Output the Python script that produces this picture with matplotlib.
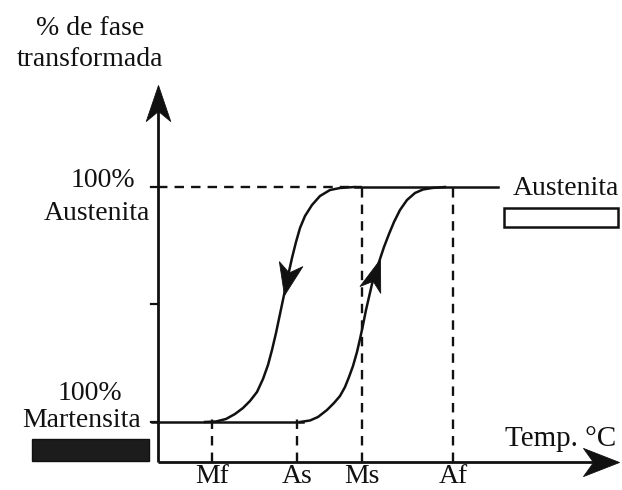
import matplotlib.pyplot as plt
import numpy as np
from matplotlib.markers import MarkerStyle
from matplotlib.patches import Rectangle
from matplotlib.path import Path
from matplotlib.transforms import Affine2D

# transformation temperatures (arbitrary temperature units)
temp_labels = ["Mf", "As", "Ms", "Af"]
temp_values = [10.8, 27.8, 40.8, 59.0]

# phase levels (% transformed)
level_mart = 0
level_aust = 100
level_ticks = [0, 50, 100]

# cooling branch (austenite -> martensite)
cool_T = [39.4, 36.4, 34.4, 32.4, 30.8, 29.4, 28.4, 27.6, 26.8, 26.0,
          25.2, 24.4, 23.6, 22.8, 22.0, 21.0, 19.8, 18.4, 17.0, 15.4,
          13.6, 11.6, 9.4]
cool_f = [100.0, 99.57, 98.72, 96.17, 92.34, 87.66, 82.55, 76.60, 69.79, 62.13,
          54.04, 45.96, 37.87, 30.64, 24.26, 18.30, 12.77, 8.94, 5.96, 3.40,
          1.28, 0.21, 0.0]
cool_arrow = 10

# heating branch (martensite -> austenite)
heat_T = [28.4, 30.4, 32.0, 33.8, 35.2, 36.4, 37.4, 38.2, 39.0, 39.8,
          40.4, 41.0, 41.6, 42.2, 42.8, 43.6, 44.4, 45.2, 46.2, 47.2,
          48.4, 49.8, 51.4, 53.0, 54.8, 57.4]
heat_f = [0.0, 0.64, 2.13, 5.11, 8.09, 11.06, 14.89, 19.15, 23.83, 29.79,
          35.32, 41.28, 47.66, 53.19, 58.72, 64.26, 69.36, 74.47, 80.0, 85.11,
          90.21, 94.47, 97.45, 98.94, 99.57, 100.0]
heat_arrow = 16

T_axis_end = 92.2
f_axis_top = 143.4
f_axis = -17
T_aust_end = 68.0
T_mart_end = 29.0

INK = "#111111"
FONT = ["Liberation Serif", "DejaVu Serif"]
W, H = 622, 490

# notched arrow head, tip at origin, pointing up
HEAD = Path([(0, 0), (-0.34, -1), (0, -0.72), (0.34, -1), (0, 0)],
            [Path.MOVETO, Path.LINETO, Path.LINETO, Path.LINETO, Path.CLOSEPOLY])


def head(ax, x, y, angle, length_px, width_scale=1.0):
    m = MarkerStyle(HEAD, transform=Affine2D().scale(width_scale, 1).rotate_deg(angle))
    ax.plot([x], [y], marker=m, ms=2 * length_px * 72 / 100, color=INK,
            mec=INK, mew=0.6, ls="none", zorder=5)


def curve_angle(ax, xs, ys, i):
    p0 = ax.transData.transform((xs[i - 1], ys[i - 1]))
    p1 = ax.transData.transform((xs[i + 1], ys[i + 1]))
    d = p1 - p0
    return np.degrees(np.arctan2(d[1], d[0])) - 90


def ftext(x, y, s, size=20, **kw):
    fig.text(x / W, 1 - y / H, s, family=FONT, fontsize=size, color=INK, **kw)


fig = plt.figure(figsize=(W / 100, H / 100), dpi=100)
ax = fig.add_axes([0, 0, 1, 1])
ax.set_xlim(-31.6, 92.8)
ax.set_ylim(-28.94, 179.57)
ax.axis("off")

# axes
ax.plot([0, 0], [f_axis, f_axis_top - 6], color=INK, lw=2.0, solid_capstyle="butt")
ax.plot([0, T_axis_end - 4], [f_axis, f_axis], color=INK, lw=2.0, solid_capstyle="butt")
head(ax, 0, f_axis_top, 0, 36, 1.0)
head(ax, T_axis_end, f_axis, -90, 36, 1.15)
for lv in level_ticks:
    ax.plot([-1.4, 0], [lv, lv], color=INK, lw=1.6)

# dashed guides
dash = dict(color=INK, lw=1.7, dashes=(4, 3))
ax.plot([0, temp_values[2]], [level_aust, level_aust], **dash)
for name, T in zip(temp_labels, temp_values):
    top = level_aust if name in ("Ms", "Af") else 4
    ax.plot([T, T], [f_axis, top], **dash)
    ax.text(T, -28.5, name, family=FONT, fontsize=20, color=INK,
            ha="center", va="bottom")

# plateaus
ax.plot([-1.2, T_mart_end], [level_mart, level_mart], color=INK, lw=1.8)
ax.plot([cool_T[0], T_aust_end], [level_aust, level_aust], color=INK, lw=1.8)

# transformation branches
ax.plot(cool_T, cool_f, color=INK, lw=1.8, solid_joinstyle="round")
ax.plot(heat_T, heat_f, color=INK, lw=1.8, solid_joinstyle="round")
head(ax, cool_T[cool_arrow], cool_f[cool_arrow],
     curve_angle(ax, cool_T, cool_f, cool_arrow), 32, 1.1)
head(ax, heat_T[heat_arrow], heat_f[heat_arrow],
     curve_angle(ax, heat_T, heat_f, heat_arrow), 32, 1.0)

# labels
ftext(90, 35, "% de fase", ha="center", va="baseline")
ftext(90, 66, "transformada", ha="center", va="baseline")
ftext(103, 187, "100%", ha="center", va="baseline")
ftext(97, 220, "Austenita", ha="center", va="baseline")
ftext(90, 400, "100%", ha="center", va="baseline")
ftext(82, 427, "Martensita", ha="center", va="baseline")
ftext(513, 195, "Austenita", ha="left", va="baseline")
ftext(505, 446, "Temp. °C", size=21, ha="left", va="baseline")

# phase swatches
fig.add_artist(Rectangle((32 / W, 1 - 461 / H), 117 / W, 22 / H,
                         transform=fig.transFigure, facecolor="#1c1c1c",
                         edgecolor=INK, lw=1))
fig.add_artist(Rectangle((504 / W, 1 - 227 / H), 114 / W, 19 / H,
                         transform=fig.transFigure, facecolor="white",
                         edgecolor=INK, lw=1.8))

fig.savefig("out.png", dpi=100)
